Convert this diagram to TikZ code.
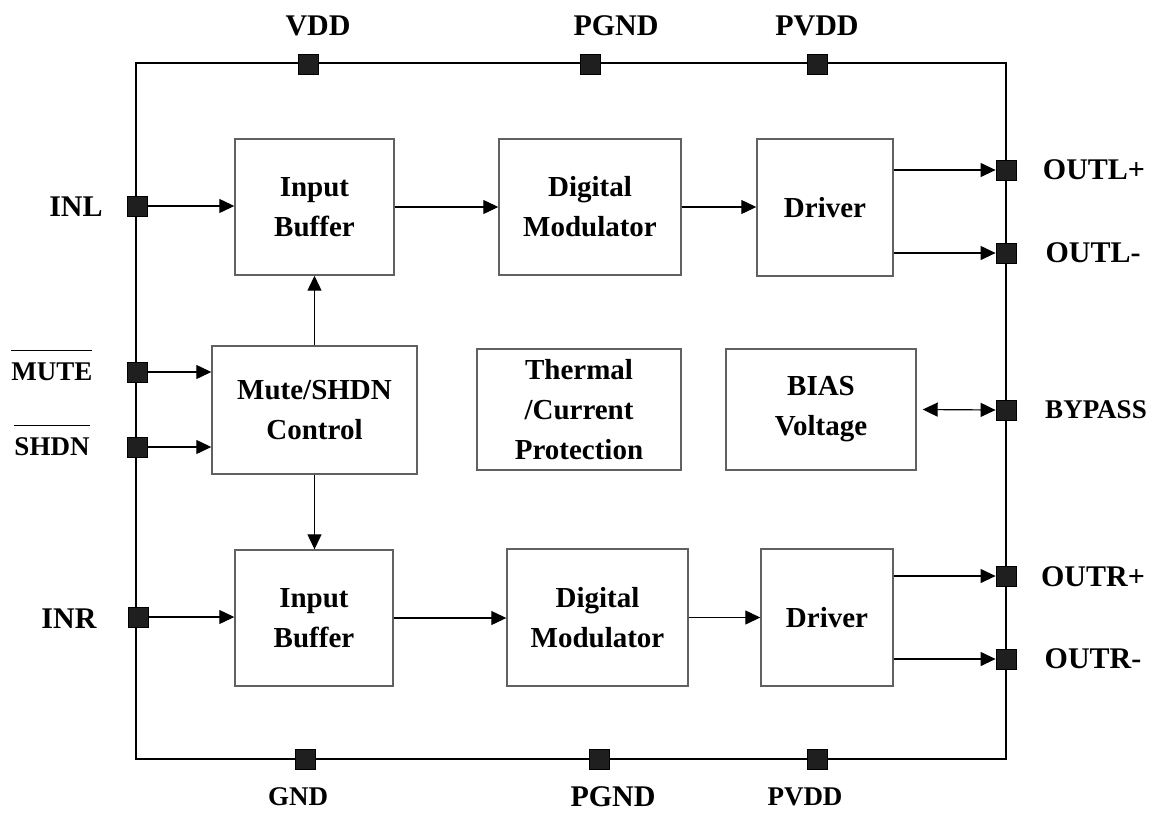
\documentclass[tikz,border=0pt]{standalone}
\usepackage{fontspec}
\setmainfont{Liberation Serif}
\usetikzlibrary{arrows.meta}
% text with a bar over it (active-low pin names)
\newcommand\barred[1]{\vbox{\hrule height 1.4pt\kern 11pt\hbox{#1}}}
\newcommand\boxfont{\bfseries\fontsize{29}{40}\selectfont}
\newcommand\pinfont{\bfseries\fontsize{30}{36}\selectfont}
\newcommand\smallpinfont{\bfseries\fontsize{27}{32}\selectfont}
\begin{document}
\begin{tikzpicture}[x=1pt,y=-1pt,
  blk/.style={draw=black!62, line width=1.4pt, fill=white, font=\boxfont,
    align=center, inner sep=0pt},
  pin/.style={draw=black, fill=black!88, minimum size=20pt, inner sep=0pt,
    line width=0.8pt},
  plabel/.style={font=\pinfont, inner sep=0pt},
  slabel/.style={font=\smallpinfont, inner sep=0pt},
  wire/.style={line width=1.2pt},
  tip/.style={Triangle[length=15pt,width=14pt]},
  arr/.style={wire, -{Triangle[length=15pt,width=14pt]}},
  darr/.style={wire, {Triangle[length=15pt,width=14pt]}-{Triangle[length=15pt,width=14pt]}}]
\useasboundingbox (0,0) rectangle (1157,812);

% chip outline
\draw[wire] (136,63) rectangle (1006,759);

% functional blocks
\node[blk, minimum width=159pt, minimum height=136pt] (ib1) at (314.5,207) {Input\\Buffer};
\node[blk, minimum width=182pt, minimum height=136pt] (dm1) at (590,207) {Digital\\Modulator};
\node[blk, minimum width=136pt, minimum height=137pt] (dr1) at (825,207.5) {Driver};
\node[blk, minimum width=205pt, minimum height=128pt] (ctl) at (314.5,410) {Mute/SHDN\\Control};
\node[blk, minimum width=204pt, minimum height=121pt] (thp) at (579,409.5) {Thermal\\/Current\\Protection};
\node[blk, minimum width=190pt, minimum height=121pt] (bias) at (821,409.5) {BIAS\\Voltage};
\node[blk, minimum width=158pt, minimum height=136pt] (ib2) at (314,618) {Input\\Buffer};
\node[blk, minimum width=181pt, minimum height=137pt] (dm2) at (597.5,617.5) {Digital\\Modulator};
\node[blk, minimum width=132pt, minimum height=137pt] (dr2) at (827,617.5) {Driver};

% pins on the outline
\node[pin] (vdd)   at (308,64) {};
\node[pin] (pgndt) at (590,64) {};
\node[pin] (pvddt) at (817,64) {};
\node[pin] (gnd)   at (305,759) {};
\node[pin] (pgndb) at (599,759) {};
\node[pin] (pvddb) at (817,759) {};
\node[pin] (inl)   at (137,206) {};
\node[pin] (mutep) at (137,372) {};
\node[pin] (shdnp) at (137,447) {};
\node[pin] (inr)   at (138,617) {};
\node[pin] (outlp) at (1006,170) {};
\node[pin] (outlm) at (1006,253) {};
\node[pin] (byp)   at (1006,410) {};
\node[pin] (outrp) at (1006,576) {};
\node[pin] (outrm) at (1006,659) {};

% pin names
\node[plabel] (vddl)   at (318,26)  {VDD};
\node[plabel] (pgndtl) at (616,26)  {PGND};
\node[plabel] (pvddtl) at (817,26)  {PVDD};
\node[slabel] (gndl)   at (298,797) {GND};
\node[plabel] (pgndbl) at (613,797) {PGND};
\node[slabel] (pvddbl) at (805,797) {PVDD};
\node[plabel] (inll)   at (76,207)  {INL};
\node[plabel] (inrl)   at (69,619)  {INR};
\node[slabel, anchor=base] (mutel) at (52,380) {\barred{MUTE}};
\node[slabel, anchor=base] (shdnl) at (52,455) {\barred{SHDN}};
\node[plabel] (outlpl) at (1094,170) {OUTL+};
\node[plabel] (outlml) at (1093,253) {OUTL-};
\node[slabel] (bypl)   at (1096,410) {BYPASS};
\node[plabel] (outrpl) at (1093,577) {OUTR+};
\node[plabel] (outrml) at (1093,659) {OUTR-};

% left channel
\draw[arr] (inl.east) -- (inl -| ib1.west);
\draw[arr] (ib1.east) -- (dm1.west);
\draw[arr] (dm1.east) -- (dm1.east -| dr1.west);
\draw[arr] (outlp -| dr1.east) -- (outlp.west);
\draw[arr] (outlm -| dr1.east) -- (outlm.west);

% control
\draw[arr] (mutep.east) -- (mutep -| ctl.west);
\draw[arr] (shdnp.east) -- (shdnp -| ctl.west);
\draw[arr] (ctl.north) -- (ib1.south);
\draw[arr] (ctl.south) -- (ctl.south |- ib2.north);

% bias
\draw[darr] ([xshift=6pt]bias.east) -- (byp.west);

% right channel
\draw[arr] (inr.east) -- (inr -| ib2.west);
\draw[arr] (ib2.east) -- (ib2.east -| dm2.west);
\draw[arr] (dm2.east) -- (dm2.east -| dr2.west);
\draw[arr] (outrp -| dr2.east) -- (outrp.west);
\draw[arr] (outrm -| dr2.east) -- (outrm.west);
\end{tikzpicture}
\end{document}
